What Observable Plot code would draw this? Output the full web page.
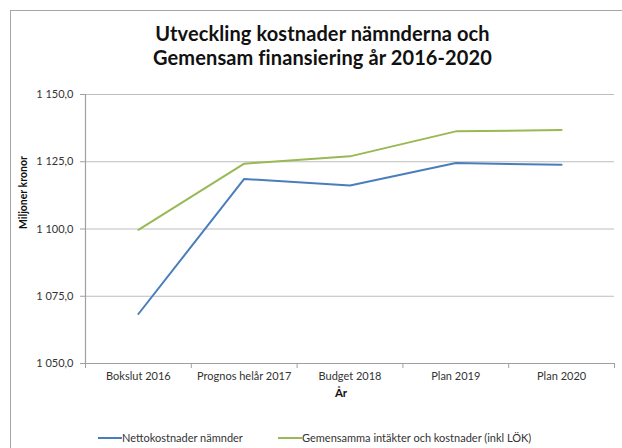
<!DOCTYPE html>
<html>
<head>
<meta charset="utf-8">
<script src="https://cdn.jsdelivr.net/npm/d3@7"></script>
<script src="https://cdn.jsdelivr.net/npm/@observablehq/plot@0.6"></script>
<style>
  html, body { margin: 0; padding: 0; background: #fff; }
  #wrap { position: relative; width: 622px; height: 448px; overflow: hidden; font-family: Lato, "DejaVu Sans", sans-serif; }
  #frame { position: absolute; left: 10px; top: 10px; width: 700px; height: 600px; border-top: 1px solid #a6a6a6; border-left: 1px solid #a6a6a6; }
  #title { position: absolute; left: 0; width: 645px; top: 21px; text-align: center; font-weight: bold; font-size: 20px; line-height: 24px; color: #111; letter-spacing: 0.1px; }
  #legend { position: absolute; top: 431px; left: 98px; font-size: 11px; color: #333; white-space: nowrap; }
  .item { position: absolute; top: 0; display: flex; align-items: center; }
  .sw { display: inline-block; width: 24px; height: 2px; }
  #chart { position: absolute; left: 0; top: 0; }
</style>
</head>
<body>
<div id="wrap">
  <div id="frame"></div>
  <div id="chart"></div>
  <div id="title">Utveckling kostnader nämnderna och<br>Gemensam finansiering år 2016-2020</div>
  <div id="legend"></div>
</div>
<script>
const categories = ["Bokslut 2016", "Prognos helår 2017", "Budget 2018", "Plan 2019", "Plan 2020"];
const seriesNames = ["Nettokostnader nämnder", "Gemensamma intäkter och kostnader (inkl LÖK)"];
const netto = [1068.4, 1118.6, 1116.2, 1124.5, 1123.9];
const gemensam = [1099.7, 1124.3, 1127.0, 1136.3, 1136.8];
const yTicks = [1050, 1075, 1100, 1125, 1150];
const colors = ["#4a7ebb", "#98b954"];

const idx = categories.map((_, i) => i);
const bounds = d3.range(categories.length + 1).map(i => i - 0.5);
const rows = [
  ...netto.map((v, i) => ({i, v, s: seriesNames[0]})),
  ...gemensam.map((v, i) => ({i, v, s: seriesNames[1]}))
];
const fmt = d3.formatLocale({decimal: ",", thousands: "\u00a0", grouping: [3]}).format(",.1f");

const chart = Plot.plot({
  width: 622,
  height: 448,
  marginLeft: 85,
  marginRight: 8,
  marginTop: 94,
  marginBottom: 85,
  style: {fontFamily: "Lato, 'DejaVu Sans', sans-serif", fontSize: "11px", color: "#333", background: "transparent"},
  x: {type: "linear", domain: [-0.5, categories.length - 0.5]},
  y: {domain: [1050, 1150]},
  color: {domain: seriesNames, range: colors},
  marks: [
    Plot.gridY(yTicks, {stroke: "#bdbdbd", strokeOpacity: 1, strokeWidth: 1.2}),
    Plot.ruleX([-0.5], {stroke: "#a0a0a0", strokeWidth: 1.2}),
    Plot.ruleY([1050], {stroke: "#a0a0a0", strokeWidth: 1.2}),
    Plot.axisY(yTicks, {tickSize: 5, tickPadding: 7, tickFormat: fmt, stroke: "#a0a0a0", fill: "#333", label: null}),
    Plot.axisX(bounds, {tickSize: 5, tickFormat: () => "", stroke: "#a0a0a0", label: null}),
    Plot.axisX(idx, {tickSize: 0, tickPadding: 9, tickFormat: i => categories[i], fill: "#333", label: null}),
    Plot.text(["Miljoner kronor"], {frameAnchor: "left", dx: -62, rotate: -90, fontWeight: "bold", fontSize: 10.5, fill: "#111"}),
    Plot.text(["År"], {frameAnchor: "bottom", dx: -9, dy: 33, fontWeight: "bold", fontSize: 11.5, fill: "#111"}),
    Plot.line(rows, {x: "i", y: "v", z: "s", stroke: "s", strokeWidth: 2})
  ]
});
document.getElementById("chart").append(chart);

const legend = document.getElementById("legend");
const offsets = [0, 180];
seriesNames.forEach((name, k) => {
  const it = document.createElement("div");
  it.className = "item";
  it.style.left = offsets[k] + "px";
  const sw = document.createElement("span");
  sw.className = "sw";
  sw.style.background = colors[k];
  const tx = document.createElement("span");
  tx.textContent = name;
  it.append(sw, tx);
  legend.append(it);
});
</script>
</body>
</html>
